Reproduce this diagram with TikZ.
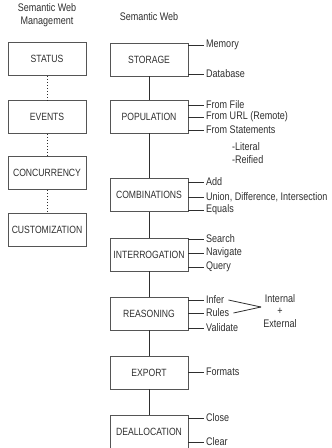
\documentclass[tikz,border=0pt]{standalone}
\usepackage{fontspec}
\setmainfont{Liberation Sans}[FakeStretch=0.82]
\definecolor{ink}{HTML}{2E2E2E}
\definecolor{boxgray}{HTML}{555555}
\begin{document}
\begin{tikzpicture}[x=1pt,y=-1pt,
  box/.style={draw=boxgray, line width=0.9pt, minimum width=78pt, minimum height=33pt,
    inner sep=0pt, text=ink, font=\fontsize{10.5}{12}\selectfont},
  item/.style={anchor=west, inner xsep=2pt, inner ysep=0pt, text=ink,
    font=\fontsize{11}{13}\selectfont},
  head/.style={align=center, text=ink, font=\fontsize{11}{12.5}\selectfont},
  link/.style={draw=ink, line width=0.8pt},
  dots/.style={draw=ink, line width=0.9pt, dash pattern=on 1.5pt off 1.5pt}
]
\useasboundingbox (0,0) rectangle (332,448);

% column headings
\node[head] (hmgmt) at (47,15) {Semantic Web\\Management};
\node[head] (hweb) at (149,17) {Semantic Web};

% management column
\node[box] (status) at (47,59) {STATUS};
\node[box] (events) at (47,117) {EVENTS};
\node[box] (concur) at (47,173) {CONCURRENCY};
\node[box] (custom) at (47,230) {CUSTOMIZATION};
\draw[dots] (status) -- (events);
\draw[dots] (events) -- (concur);
\draw[dots] (concur) -- (custom);

% semantic web column
\node[box] (storage) at (149,59.5) {STORAGE};
\node[box] (popul) at (149,116.5) {POPULATION};
\node[box] (combi) at (149,195) {COMBINATIONS};
\node[box] (interr) at (149,254.5) {INTERROGATION};
\node[box] (reason) at (149,313.5) {REASONING};
\node[box] (export) at (149,372.5) {EXPORT};
\node[box] (dealloc) at (149,431.5) {DEALLOCATION};
\draw[link] (storage) -- (popul);
\draw[link] (popul) -- (combi);
\draw[link] (combi) -- (interr);
\draw[link] (interr) -- (reason);
\draw[link] (reason) -- (export);
\draw[link] (export) -- (dealloc);

% operations attached to each stage
\node[item] (memory) at (204,45) {Memory};
\node[item] (database) at (204,74) {Database};
\node[item] (fromfile) at (204,105) {From File};
\node[item] (fromurl) at (204,117) {From URL (Remote)};
\node[item] (fromstmt) at (204,130) {From Statements};
\node[item] (literal) at (230,147) {-Literal};
\node[item] (reified) at (230,160) {-Reified};
\node[item] (add) at (204,182) {Add};
\node[item] (union) at (204,197) {Union, Difference, Intersection};
\node[item] (equals) at (204,210) {Equals};
\node[item] (search) at (204,239) {Search};
\node[item] (navigate) at (204,253) {Navigate};
\node[item] (query) at (204,267) {Query};
\node[item] (infer) at (204,300) {Infer};
\node[item] (rules) at (204,313) {Rules};
\node[item] (validate) at (204,328) {Validate};
\node[item] (formats) at (204,372) {Formats};
\node[item] (close) at (204,418) {Close};
\node[item] (clear) at (204,442) {Clear};

\foreach \b/\t in {storage/memory, storage/database,
                   popul/fromfile, popul/fromurl, popul/fromstmt,
                   combi/add, combi/union, combi/equals,
                   interr/search, interr/navigate, interr/query,
                   reason/infer, reason/rules, reason/validate,
                   export/formats, dealloc/close, dealloc/clear}
  \draw[link] (\b.east |- \t.west) -- (\t.west);

% inference sources
\node[head] (sources) at (280,311) {Internal\\+\\External};
\coordinate (join) at (261,307);
\draw[link] ([xshift=2pt]infer.east) -- (join);
\draw[link] ([xshift=2pt]rules.east) -- (join);
\end{tikzpicture}
\end{document}
